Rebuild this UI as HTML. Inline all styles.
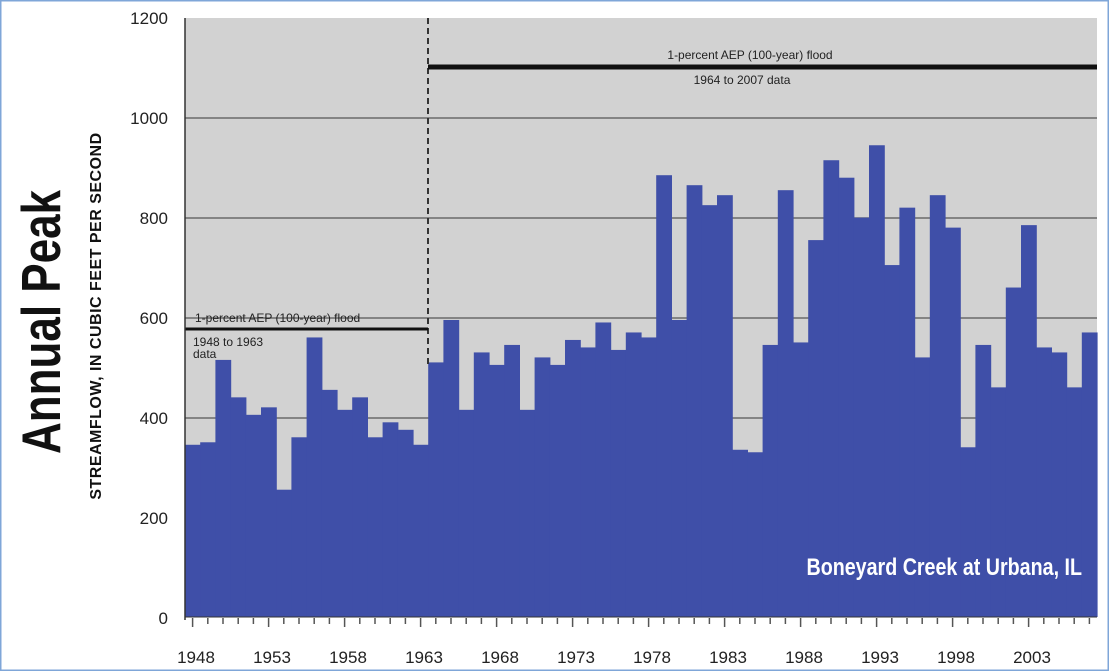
<!DOCTYPE html>
<html><head><meta charset="utf-8"><style>
body{margin:0;background:#fff;}
svg{display:block;font-family:"Liberation Sans",sans-serif;}
</style></head><body>
<svg width="1109" height="671" viewBox="0 0 1109 671" xmlns="http://www.w3.org/2000/svg">
<rect x="0.5" y="0.5" width="1108" height="670" fill="#fff" stroke="#7fa6d8" stroke-width="2"/>
<rect x="185" y="18" width="912" height="599" fill="#d2d2d2"/>
<g stroke="#6a6a6a" stroke-width="1.5">
<line x1="185" y1="118" x2="1097" y2="118"/><line x1="185" y1="218" x2="1097" y2="218"/>
<line x1="185" y1="318" x2="1097" y2="318"/><line x1="185" y1="418" x2="1097" y2="418"/>
<line x1="185" y1="518" x2="1097" y2="518"/>
</g>
<g id="bars" fill="#3f4fa8"></g>
<line x1="428" y1="18" x2="428" y2="365" stroke="#333" stroke-width="2" stroke-dasharray="6,4"/>
<line x1="428" y1="67" x2="1097" y2="67" stroke="#111" stroke-width="5"/>
<line x1="185" y1="329" x2="428" y2="329" stroke="#111" stroke-width="3"/>
<g font-size="12" fill="#222">
<text x="750" y="59" text-anchor="middle">1-percent AEP (100-year) flood</text>
<text x="742" y="84" text-anchor="middle">1964 to 2007 data</text>
<text x="195" y="322">1-percent AEP (100-year) flood</text>
<text x="193" y="346">1948 to 1963</text>
<text x="193" y="358">data</text>
</g>
<line x1="185" y1="18" x2="185" y2="620" stroke="#333" stroke-width="1.5"/>
<line x1="185" y1="617" x2="1097" y2="617" stroke="#333" stroke-width="1"/>
<g id="ticks" stroke="#555" stroke-width="1.5"></g>
<g font-size="17" fill="#222" text-anchor="end">
<text x="168" y="24">1200</text><text x="168" y="124">1000</text><text x="168" y="224">800</text>
<text x="168" y="324">600</text><text x="168" y="424">400</text><text x="168" y="524">200</text><text x="168" y="624">0</text>
</g>
<g font-size="17" fill="#222" text-anchor="middle">
<text x="196" y="663">1948</text><text x="272" y="663">1953</text><text x="348" y="663">1958</text>
<text x="424" y="663">1963</text><text x="500" y="663">1968</text><text x="576" y="663">1973</text>
<text x="652" y="663">1978</text><text x="728" y="663">1983</text><text x="804" y="663">1988</text>
<text x="880" y="663">1993</text><text x="956" y="663">1998</text><text x="1032" y="663">2003</text>
</g>
<text transform="translate(101,316) rotate(-90)" text-anchor="middle" font-size="16" font-weight="bold" fill="#111" letter-spacing="0.5">STREAMFLOW, IN CUBIC FEET PER SECOND</text>
<text transform="translate(60,322) rotate(-90) scale(0.8,1)" text-anchor="middle" font-size="55" font-weight="bold" fill="#111">Annual Peak</text>
<text transform="translate(1082,575) scale(0.82,1)" text-anchor="end" font-size="24" font-weight="bold" fill="#fff">Boneyard Creek at Urbana, IL</text>
<script>
var v=[345,350,515,440,405,420,255,360,560,455,415,440,360,390,375,345,510,595,415,530,505,545,415,520,505,555,540,590,535,570,560,885,595,865,825,845,335,330,545,855,550,755,915,880,800,945,705,820,520,845,780,340,545,460,660,785,540,530,460,570];
var g=document.getElementById('bars'),t=document.getElementById('ticks'),ns='http://www.w3.org/2000/svg';
var w=912/60;
v.forEach(function(d,i){var r=document.createElementNS(ns,'rect');var h=d*0.4992;
r.setAttribute('x',185+i*w);r.setAttribute('width',w+0.6);r.setAttribute('y',617-h);r.setAttribute('height',h);g.appendChild(r);
var l=document.createElementNS(ns,'line');var x=185+(i+0.5)*w;l.setAttribute('x1',x);l.setAttribute('x2',x);l.setAttribute('y1',618);l.setAttribute('y2',i%5==0?627:624);t.appendChild(l);});
</script>
</svg>
</body></html>
